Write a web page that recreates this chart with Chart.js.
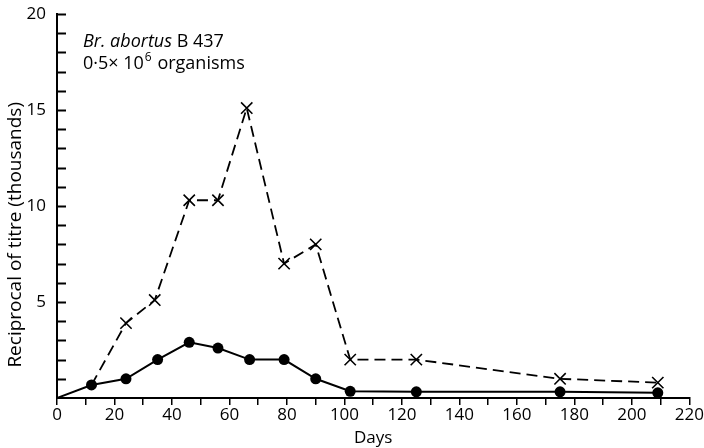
<!DOCTYPE html>
<html>
<head>
<meta charset="utf-8">
<script src="https://cdn.jsdelivr.net/npm/chart.js@4"></script>
<style>
  body { margin: 0; background: #fff; }
  #wrap { width: 704px; height: 448px; }
</style>
</head>
<body>
<div id="wrap"><canvas id="chart" width="704" height="448"></canvas></div>
<script>
// solid line, filled dots (starts at origin)
const dotDays = [0, 12, 24, 35, 46, 56, 67, 79, 90, 102, 125, 175, 209];
const dotValues = [0, 0.68, 1.0, 2.0, 2.9, 2.6, 2.0, 2.0, 1.0, 0.35, 0.32, 0.32, 0.27];

// dashed line, crosses (starts from the day-12 dot)
const crossDays = [12, 24, 34, 46, 56, 66, 79, 90, 102, 125, 175, 209];
const crossValues = [0.68, 3.9, 5.1, 10.3, 10.3, 15.1, 7.0, 8.0, 2.0, 2.0, 1.0, 0.8];

const xTicks = [0, 20, 40, 60, 80, 100, 120, 140, 160, 180, 200, 220];
const yTicks = [5, 10, 15, 20];
const yTitle = "Reciprocal of titre (thousands)";

const FONT = "'Open Sans', 'DejaVu Sans', sans-serif";

const toPoints = (xs, ys) => xs.map((x, i) => ({ x: x, y: ys[i] }));

// little inward ticks on the y axis, one per thousand, plus the y title
const yAxisExtras = {
  id: "yAxisExtras",
  afterDraw(chart) {
    const ctx = chart.ctx;
    const y = chart.scales.y;
    ctx.save();
    ctx.strokeStyle = "#000";
    ctx.lineWidth = 2;
    for (let v = 1; v <= 20; v++) {
      const py = Math.round(y.getPixelForValue(v)) + 0.5;
      ctx.beginPath();
      ctx.moveTo(y.right - 1, py);
      ctx.lineTo(y.right + 9, py);
      ctx.stroke();
    }
    // title sits a bit below the middle of the axis, as in the print
    ctx.translate(16, y.getPixelForValue(8.5));
    ctx.rotate(-Math.PI / 2);
    ctx.fillStyle = "#000";
    ctx.font = "19px " + FONT;
    ctx.textAlign = "center";
    ctx.textBaseline = "middle";
    ctx.fillText(yTitle, 0, 0);
    ctx.restore();
  },
};

// the strain note in the top left corner
const note = {
  id: "note",
  afterDraw(chart) {
    const ctx = chart.ctx;
    const a = chart.chartArea;
    let x = a.left + 26;
    let y = a.top + 33;
    ctx.save();
    ctx.fillStyle = "#000";
    ctx.textBaseline = "alphabetic";
    ctx.font = "italic 18px " + FONT;
    ctx.fillText("Br. abortus", x, y);
    x += ctx.measureText("Br. abortus ").width;
    ctx.font = "18px " + FONT;
    ctx.fillText("B 437", x, y);

    x = a.left + 26;
    y += 22;
    ctx.fillText("0·5× 10", x, y);
    x += ctx.measureText("0·5× 10").width;
    ctx.font = "12px " + FONT;
    ctx.fillText("6", x + 1, y - 8);
    x += ctx.measureText("6").width + 2;
    ctx.font = "18px " + FONT;
    ctx.fillText(" organisms", x, y);
    ctx.restore();
  },
};

new Chart(document.getElementById("chart").getContext("2d"), {
  type: "line",
  data: {
    datasets: [
      {
        label: "crosses",
        data: toPoints(crossDays, crossValues),
        borderColor: "#000",
        borderWidth: 1.8,
        borderDash: [11, 6],
        pointStyle: "crossRot",
        pointRadius: crossDays.map((d, i) => (i === 0 ? 0 : 8)),
        pointBorderWidth: 1.6,
        pointBorderColor: "#000",
        pointBackgroundColor: "#000",
        tension: 0,
      },
      {
        label: "dots",
        data: toPoints(dotDays, dotValues),
        borderColor: "#000",
        borderWidth: 2,
        pointStyle: "circle",
        pointRadius: dotDays.map((d, i) => (i === 0 ? 0 : 5.5)),
        pointBorderWidth: 0,
        pointBackgroundColor: "#000",
        tension: 0,
      },
    ],
  },
  options: {
    responsive: false,
    animation: false,
    layout: { padding: { top: 14, right: 14, left: 0, bottom: 0 } },
    plugins: {
      legend: { display: false },
      tooltip: { enabled: false },
    },
    scales: {
      x: {
        type: "linear",
        min: 0,
        max: 220,
        border: { display: true, color: "#000", width: 2 },
        grid: { drawOnChartArea: false, drawTicks: true, tickLength: 7, color: "#000", lineWidth: 1.5 },
        ticks: {
          stepSize: 10,
          autoSkip: false,
          maxRotation: 0,
          minRotation: 0,
          padding: 0,
          color: "#000",
          font: { family: FONT, size: 17 },
          callback: (v) => (xTicks.includes(v) ? String(v) : ""),
        },
        title: {
          display: true,
          text: "Days",
          color: "#000",
          font: { family: FONT, size: 17 },
          padding: { top: -6, bottom: 0 },
        },
        afterFit: (s) => { s.height = 50; },
      },
      y: {
        min: 0,
        max: 20,
        border: { display: true, color: "#000", width: 2 },
        grid: { display: false },
        ticks: {
          stepSize: 1,
          autoSkip: false,
          padding: 3,
          color: "#000",
          font: { family: FONT, size: 17 },
          callback: (v) => (yTicks.includes(v) ? String(v) : ""),
        },
        afterFit: (s) => { s.width = 57; },
      },
    },
  },
  plugins: [yAxisExtras, note],
});
</script>
</body>
</html>
